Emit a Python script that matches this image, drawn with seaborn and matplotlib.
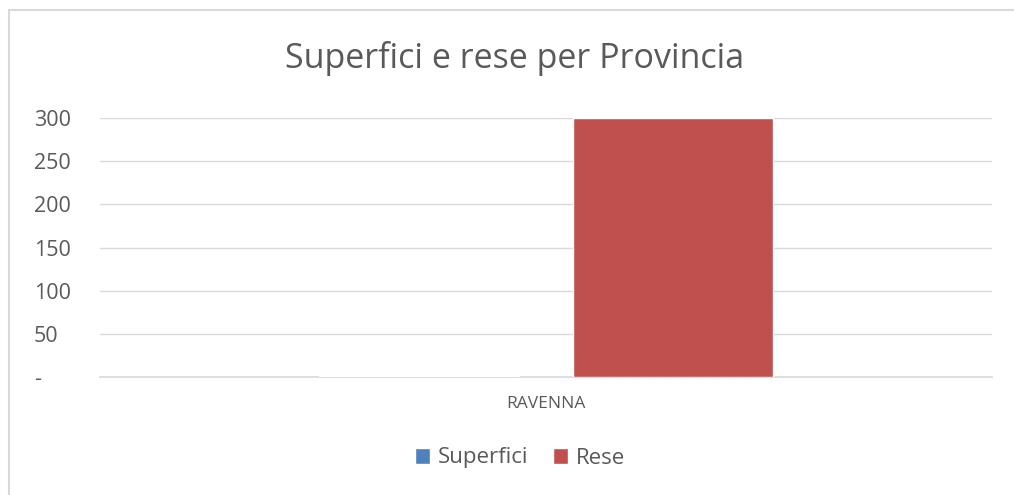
import numpy as np
import pandas as pd
import matplotlib
matplotlib.use("Agg")
import matplotlib.pyplot as plt
import matplotlib.transforms as mtransforms
import seaborn as sns
from matplotlib.lines import Line2D

# Data
province = ['RAVENNA']
superfici = [1.5]
rese = [300]
yticks = [0, 50, 100, 150, 200, 250, 300]
ytick_labels = ['-', '50', '100', '150', '200', '250', '300']

df = pd.DataFrame({
    'Provincia': province * 2,
    'Serie': ['Superfici'] * len(province) + ['Rese'] * len(province),
    'Valore': superfici + rese,
})

sns.set_style('white')
plt.rcParams['font.family'] = ['Open Sans', 'DejaVu Sans']

text_col = '#595959'
grid_col = '#D9D9D9'

fig = plt.figure(figsize=(10.14, 4.95), dpi=100)
ax = fig.add_axes([100/1014, 1 - 377/495, (992-100)/1014, (377-118)/495])

sns.barplot(data=df, x='Provincia', y='Valore', hue='Serie',
            palette=['#4F81BD', '#C0504D'], width=0.568, gap=0.21,
            saturation=1, ax=ax, legend=True)
# bars above the axis line so the tiny Superfici bar stays visible
for p in ax.patches:
    p.set_zorder(3)

ax.set_xlim(-0.5, 0.5)
ax.set_ylim(0, 300)
ax.set_yticks(yticks)
ax.set_yticklabels(ytick_labels)
ax.grid(axis='y', color=grid_col, linewidth=1)
ax.set_axisbelow(True)
for s in ['top', 'right', 'left']:
    ax.spines[s].set_visible(False)
ax.spines['bottom'].set_color(grid_col)
ax.spines['bottom'].set_linewidth(1.2)
ax.tick_params(axis='y', length=0, labelsize=15.5, labelcolor=text_col, pad=0)
ax.tick_params(axis='x', length=0, labelsize=12.5, labelcolor=text_col, pad=14)
ax.set_xlabel('')
ax.set_ylabel('')
# left-aligned y labels, like the spreadsheet chart
shift = mtransforms.ScaledTranslation(-66/100, 0, fig.dpi_scale_trans)
for lab in ax.get_yticklabels():
    lab.set_horizontalalignment('left')
    lab.set_transform(lab.get_transform() + shift)

fig.text(515/1014, 1 - 58/495, 'Superfici e rese per Provincia', ha='center', va='center',
         fontsize=24.5, color=text_col)

ax.legend_.remove()
handles, labels = ax.get_legend_handles_labels()
fig.legend(handles, labels, loc='center', bbox_to_anchor=(520/1014, 1 - 458/495),
           ncol=2, frameon=False, fontsize=16, labelcolor=text_col,
           handlelength=0.7, handleheight=0.7, handletextpad=0.35, columnspacing=1.1)

# chart area frame (only left and top edges visible in the crop)
fig.add_artist(Line2D([9/1014, 9/1014], [0, 1 - 10/495], transform=fig.transFigure,
                      color=grid_col, linewidth=1.5))
fig.add_artist(Line2D([9/1014, 1], [1 - 10/495, 1 - 10/495], transform=fig.transFigure,
                      color=grid_col, linewidth=1.5))

fig.savefig('out.png', dpi=100)
